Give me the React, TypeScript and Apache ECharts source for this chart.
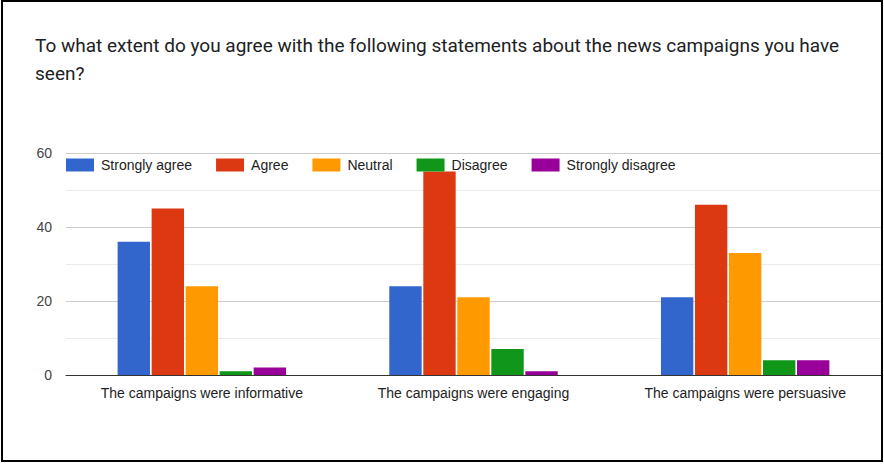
import React, { useEffect, useRef } from "react";
import * as echarts from "echarts";

const categories = [
  "The campaigns were informative",
  "The campaigns were engaging",
  "The campaigns were persuasive",
];
const seriesNames = ["Strongly agree", "Agree", "Neutral", "Disagree", "Strongly disagree"];
const stronglyAgree = [36, 24, 21];
const agree = [45, 55, 46];
const neutral = [24, 21, 33];
const disagree = [1, 7, 4];
const stronglyDisagree = [2, 1, 4];
const colors = ["#3366cc", "#dc3912", "#ff9900", "#109618", "#990099"];
const titleText =
  "To what extent do you agree with the following statements about the news campaigns you have\nseen?";

export default function App() {
  const ref = useRef<HTMLDivElement>(null);
  useEffect(() => {
    document.body.style.margin = "0";
    const chart = echarts.init(ref.current!, null, { renderer: "svg" });
    const values = [stronglyAgree, agree, neutral, disagree, stronglyDisagree];
    chart.setOption({
      animation: false,
      backgroundColor: "#ffffff",
      title: {
        text: titleText,
        left: 35,
        top: 31,
        padding: 0,
        textStyle: {
          fontFamily: "Roboto",
          fontSize: 19,
          fontWeight: "normal",
          color: "#202124",
          lineHeight: 28.5,
        },
      },
      legend: {
        left: 66,
        top: 158,
        padding: 0,
        itemWidth: 28,
        itemHeight: 13,
        itemGap: 24,
        icon: "rect",
        textStyle: { fontFamily: "Liberation Sans, Arial", fontSize: 14, color: "#222222", padding: [0, 0, 0, 2] },
        data: seriesNames,
      },
      grid: { left: 66, right: 3, top: 153, bottom: 89 },
      xAxis: {
        type: "category",
        data: categories,
        axisLine: { lineStyle: { color: "#333333", width: 1 } },
        axisTick: { show: false },
        axisLabel: { fontFamily: "Liberation Sans, Arial", fontSize: 14, color: "#222222", margin: 11 },
      },
      yAxis: {
        type: "value",
        min: 0,
        max: 60,
        interval: 20,
        axisLine: { show: false },
        axisTick: { show: false },
        axisLabel: { fontFamily: "Liberation Sans, Arial", fontSize: 14, color: "#444444", margin: 14 },
        splitLine: { lineStyle: { color: "#cccccc" } },
        minorTick: { show: false, splitNumber: 2 },
        minorSplitLine: { show: true, lineStyle: { color: "#ebebeb" } },
      },
      series: seriesNames.map((name, i) => ({
        name,
        type: "bar",
        data: values[i],
        barCategoryGap: "38%",
        barGap: "5%",
        itemStyle: { color: colors[i] },
      })),
      graphic: [
        {
          type: "rect",
          shape: { x: 2, y: 1, width: 880, height: 460 },
          style: { fill: "none", stroke: "#000000", lineWidth: 2 },
          silent: true,
          z: 100,
        },
      ],
    });
    return () => chart.dispose();
  }, []);
  return <div ref={ref} style={{ position: "absolute", left: 0, top: 0, width: 884, height: 464 }} />;
}
